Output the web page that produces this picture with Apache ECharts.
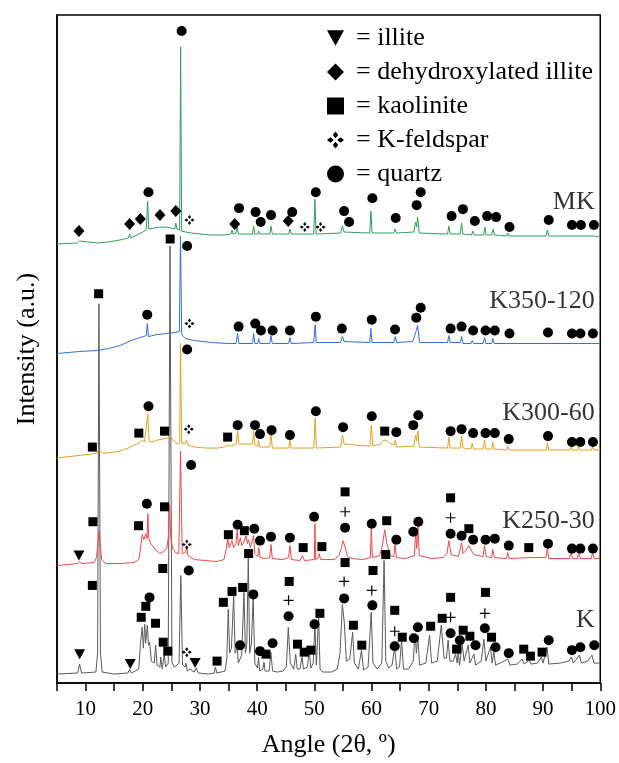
<!DOCTYPE html>
<html><head><meta charset="utf-8">
<script src="https://cdn.jsdelivr.net/npm/echarts/dist/echarts.min.js"></script>
<style>html,body{margin:0;padding:0;background:#fff}#c{width:619px;height:763px}</style>
</head><body><div id="c"></div>
<script>
// ---- traces: [angle 2θ, intensity (a.u., stacked)] ----
const traceK = [[5,9],[8.6,10],[8.95,19],[9.3,10],[11.8,11],[12.1,30],[12.33,381],[12.6,30],[12.9,11],[15,9],[17.4,10],[17.7,14],[18.0,10],[19.3,14],[19.6,40],[19.9,56],[20.1,35],[20.35,59],[20.5,40],[20.8,58],[21.0,38],[21.2,41],[21.5,22],[22.0,20],[22.25,38],[22.5,18],[23.0,16],[23.15,26],[23.4,14],[23.75,29],[24.0,16],[24.45,20],[24.76,439],[25.1,21],[25.5,16],[26.0,18],[26.35,20],[26.65,108],[26.95,18],[27.4,16],[27.55,20],[27.8,12],[28.2,14],[29.0,11],[29.35,15],[29.7,10],[31.5,9],[32.5,10],[32.7,16],[32.95,10],[34.4,12],[34.7,25],[34.95,74],[35.2,30],[35.5,35],[35.9,88],[36.15,30],[36.45,31],[36.55,36],[36.7,20],[37.3,28],[37.7,91],[37.95,30],[38.2,40],[38.45,126],[38.7,30],[39.0,40],[39.3,86],[39.6,20],[40.05,15],[40.25,26],[40.45,12],[41.0,14],[41.2,21],[41.4,12],[42.1,12],[42.4,31],[42.7,12],[43.5,11],[44.5,12],[45.1,16],[45.45,56],[45.8,20],[46.4,14],[46.75,29],[47.0,14],[47.5,14],[47.85,26],[48.1,14],[48.8,16],[49.1,33],[49.4,15],[49.8,20],[50.1,58],[50.35,18],[50.5,20],[50.75,68],[51.0,14],[51.5,11],[53.0,11],[54.0,14],[54.5,30],[54.9,79],[55.25,60],[55.6,22],[56.2,24],[56.7,51],[57.0,20],[57.7,14],[58.25,33],[58.6,13],[59.4,16],[59.95,71],[60.25,20],[61.0,14],[61.8,20],[62.2,123],[62.5,22],[63.0,15],[63.6,18],[64.05,36],[64.4,14],[64.9,16],[65.25,43],[65.6,14],[66.5,14],[67.3,22],[67.5,40],[67.7,43],[67.85,30],[68.1,48],[68.4,18],[69.5,20],[70.15,48],[70.5,20],[71.5,22],[72.2,58],[72.7,25],[73.1,25],[73.4,43],[73.7,22],[74.3,22],[74.7,29],[75.0,20],[75.15,31],[75.4,18],[75.85,39],[76.2,22],[76.9,38],[77.2,20],[77.9,29],[78.2,18],[79.2,22],[79.65,44],[80.0,22],[80.8,36],[81.1,20],[81.4,31],[81.7,18],[82.5,20],[83.85,24],[84.2,18],[85.5,19],[86.35,24],[86.7,19],[87.6,23],[87.9,19],[89.0,20],[89.7,26],[90.0,20],[90.7,36],[91.0,19],[93.0,20],[94.5,22],[94.95,26],[95.3,20],[96.35,28],[96.7,20],[97.8,22],[98.55,28],[98.9,20],[100,20]];
const traceK250 = [[5,118],[8.6,120],[8.95,122],[9.3,120],[11.5,121],[11.9,126],[12.15,140],[12.33,153],[12.55,140],[12.8,124],[13.5,120],[16,120],[18.5,121],[19.3,124],[19.6,135],[19.9,149],[20.2,144],[20.5,150],[20.75,145],[20.88,170],[21.05,145],[21.4,140],[22.2,134],[23.0,130],[23.6,132],[24.2,135],[24.5,148],[24.7,179],[24.85,148],[25.2,136],[25.7,131],[26.3,130],[26.6,233],[26.9,130],[27.5,131],[27.65,138],[27.9,128],[29,124],[31,123],[33,122],[34.2,124],[34.6,135],[34.85,146],[35.1,136],[35.6,143],[35.9,136],[36.3,140],[36.5,154],[36.7,138],[37.06,146],[37.3,138],[37.7,142],[38.05,148],[38.3,140],[38.5,144],[38.8,136],[39.1,134],[39.38,148],[39.6,130],[40.1,127],[40.28,136],[40.5,126],[41.5,125],[42.2,126],[42.42,139],[42.65,125],[44.5,124],[45.5,126],[45.73,138],[46.0,124],[47.5,123],[47.9,128],[48.3,123],[50.0,124],[50.1,160],[50.25,124],[50.7,126],[50.85,130],[51.1,124],[53.5,124],[54.3,128],[54.7,135],[55.03,143],[55.4,136],[55.8,127],[56.7,125],[58.5,124],[59.8,126],[59.97,156],[60.15,126],[61.4,128],[61.9,138],[62.31,154],[62.7,140],[63.3,128],[63.9,127],[64.11,139],[64.35,126],[66,125],[67.5,128],[67.72,153],[67.9,135],[68.12,158],[68.35,128],[70.5,125],[72.5,126],[73.2,130],[73.53,143],[73.9,129],[75.2,127],[75.75,141],[76.0,130],[76.5,133],[77.0,138],[77.4,134],[77.6,136],[77.9,129],[79.5,127],[79.77,138],[80.05,127],[81.0,126],[81.21,134],[81.5,126],[83.6,125],[83.83,131],[84.1,125],[87.5,126],[90.5,126],[90.76,136],[91.0,125],[94.6,125],[94.88,131],[95.2,125],[96.0,125],[96.22,131],[96.5,125],[98.4,125],[98.66,131],[98.95,125],[100,125]];
const traceK300 = [[5,226],[8,228],[11,230],[11.9,231],[12.15,233],[12.33,235],[12.55,233],[12.9,231],[14,231],[16,233],[17.5,236],[18.5,239],[19.3,241],[19.9,244],[20.3,242],[20.6,243],[20.88,270],[21.1,243],[21.6,242],[22.5,244],[23.5,245],[24.3,246],[24.79,248],[25.3,244],[26.0,240],[26.45,241],[26.6,341],[26.8,241],[27.3,240],[27.65,244],[27.9,239],[29,237],[31,236],[33,236],[34.2,237],[34.84,239],[35.5,238],[36.3,240],[36.59,253],[36.8,240],[38.0,240],[39.2,240],[39.38,253],[39.6,239],[40.1,238],[40.25,244],[40.45,237],[42.2,237],[42.42,251],[42.65,236],[45.5,236],[45.73,244],[45.95,236],[49.9,236],[50.15,266],[50.35,236],[54.6,237],[54.91,249],[55.2,240],[55.4,238],[59.7,238],[59.97,259],[60.2,238],[61.5,240],[62.2,244],[62.8,243],[63.4,240],[63.95,239],[64.16,244],[64.4,237],[67.4,238],[67.72,249],[67.9,243],[68.12,253],[68.35,237],[73.3,236],[73.53,247],[73.75,236],[75.5,236],[75.75,248],[76.0,236],[77.4,235],[77.6,241],[77.85,235],[79.5,235],[79.77,244],[80.0,235],[81.0,235],[81.21,242],[81.45,235],[83.6,234],[83.83,238],[84.05,234],[90.5,234],[90.76,241],[91.0,234],[94.7,234],[94.9,238],[95.1,234],[96.0,234],[96.22,238],[96.45,234],[98.45,234],[98.66,238],[98.9,234],[100,234]];
const traceK350 = [[5,331],[9,333],[12,334],[14,336],[16,339],[18,344],[19.5,347],[20.6,349],[20.8,361],[21.0,348],[22.5,350],[24,351],[25.5,352],[26.4,353],[26.6,449],[26.8,350],[27.5,346],[29,344],[32,342],[35,341],[36.3,341],[36.59,351],[36.8,341],[39.2,341],[39.38,351],[39.6,341],[40.1,341],[40.25,346],[40.45,341],[42.2,341],[42.42,349],[42.65,341],[45.5,341],[45.73,347],[45.95,341],[49.9,342],[50.15,360],[50.35,342],[54.6,342],[54.91,348],[55.2,343],[59.7,342],[59.87,356],[60.1,342],[63.9,342],[64.16,348],[64.4,342],[67.2,343],[67.83,354],[68.07,359],[68.4,342],[73.3,342],[73.53,349],[73.75,342],[75.5,342],[75.75,348],[76.0,341],[77.4,341],[77.6,344],[77.85,341],[79.5,341],[79.77,347],[80.0,341],[81.0,341],[81.21,346],[81.45,341],[83.6,341],[83.83,343],[84.05,341],[90.5,341],[90.76,343],[91.0,341],[94.7,341],[94.9,342],[95.1,341],[96.0,341],[96.22,342],[96.45,341],[98.45,341],[98.66,342],[98.9,341],[100,341]];
const traceMK = [[5,441],[8.6,442],[8.96,444],[9.3,442],[12,442],[14,443],[16,445],[17.5,447],[17.69,451],[17.9,447],[19,450],[20.0,453],[20.6,455],[20.85,484],[21.05,456],[22,457],[23,458],[24,458],[25.0,457],[25.6,456],[25.77,462],[25.95,456],[26.45,455],[26.62,639],[26.8,454],[27.5,453],[28.5,452],[30,451],[32,450],[34,450],[35.4,451],[35.61,455],[35.8,451],[36.3,452],[36.48,459],[36.7,451],[39.2,451],[39.38,459],[39.6,451],[40.1,451],[40.25,454],[40.45,451],[42.2,451],[42.42,459],[42.65,451],[45.5,451],[45.73,456],[45.95,451],[49.9,451],[50.1,486],[50.3,451],[54.6,452],[54.91,459],[55.2,453],[55.5,452],[59.7,452],[59.89,474],[60.1,452],[63.9,452],[64.11,456],[64.35,452],[67.4,453],[67.72,463],[67.9,458],[68.05,468],[68.35,452],[73.3,451],[73.53,459],[73.75,451],[75.5,451],[75.75,462],[76.0,451],[77.5,450],[77.72,454],[77.95,450],[79.6,450],[79.82,458],[80.05,450],[81.0,450],[81.27,456],[81.5,450],[83.6,449],[83.83,452],[84.05,449],[90.5,449],[90.76,455],[91.0,449],[94.7,449],[94.9,451],[95.1,449],[96.0,449],[96.22,451],[96.45,449],[98.45,449],[98.66,451],[98.9,449],[100,448]];

// ---- phase markers: [angle, height] ----
const illiteMarks = [[8.96,29],[17.81,19],[29.15,20],[8.84,128]];
const dehydIlliteMarks = [[8.84,454],[17.69,461],[19.57,466],[23.01,470],[25.77,474],[36.08,461],[45.44,464]];
const kaoliniteMarks = [[11.18,98],[12.28,391],[19.73,66],[20.53,77],[22.23,60],[23.57,41],[24.37,32],[23.5,115],[24.79,446],[32.99,22],[34.09,81],[35.61,92],[37.46,96],[38.51,130],[41.54,29],[45.61,102],[47.06,39],[48.23,31],[49.4,33],[50.97,70],[55.38,121],[56.83,58],[58.3,38],[60.27,113],[62.49,129],[64.06,73],[65.38,46],[70.34,57],[72.36,65],[73.83,86],[74.88,34],[76.03,53],[77.2,47],[79.94,91],[80.99,46],[86.62,34],[87.79,27],[89.82,31],
  [11.28,162],[19.26,158],[23.8,177],[34.97,149],[37.76,153],[48.05,136],[51.32,137],[55.38,192],[62.66,163],[73.83,186],[77.02,155],[87.5,136],
  [11.18,237],[19.31,251],[23.8,253],[34.84,247],[62.31,253]];
const feldsparMarks = [[27.69,31],[27.69,139],[28.04,255],[28.16,361],[28.16,465],[48.33,458],[51.09,458]];
const quartzMarks = [
  [21.18,86],[28.04,113],[37.01,38],[39.33,89],[40.5,32],[42.7,40],[45.49,67],[50.03,59],[55.21,85],[60.15,78],[64.06,37],[67.4,45],[68.1,56],[73.83,50],[75.45,43],[78.19,38],[79.82,55],[81.68,36],[84.0,30],[90.99,43],[95.05,33],[96.52,36],[98.96,38],
  [20.71,180],[28.46,219],[36.59,159],[39.5,155],[40.5,143],[42.42,147],[45.73,146],[49.97,167],[55.38,156],[60.04,160],[64.34,144],[67.3,152],[68.18,162],[73.83,150],[75.75,148],[77.77,144],[79.94,144],[81.56,145],[84.0,138],[90.86,140],[95.05,135],[96.52,135],[98.72,135],
  [21.0,278],[27.76,335],[36.59,259],[39.62,259],[40.5,250],[42.52,254],[45.73,249],[50.27,273],[55.03,257],[60.04,268],[64.34,252],[67.3,259],[68.18,269],[73.83,253],[75.75,255],[77.77,251],[79.94,251],[81.56,251],[84.0,245],[90.86,248],[95.05,242],[96.52,242],[98.72,242],
  [20.78,370],[27.76,439],[36.76,358],[39.68,361],[40.67,354],[42.7,354],[45.73,354],[50.27,368],[54.81,356],[60.04,365],[64.11,355],[67.83,367],[68.6,377],[73.83,356],[75.75,358],[77.77,354],[79.94,354],[81.56,354],[84.13,351],[90.86,352],[95.05,351],[96.52,351],[98.72,351],
  [21.0,493],[26.8,655],[36.83,477],[39.73,473],[40.62,463],[42.42,470],[46.13,473],[50.25,493],[55.21,474],[56.08,463],[60.15,487],[64.23,467],[67.9,480],[68.6,493],[74.0,469],[75.98,476],[78.07,464],[80.22,469],[81.79,468],[84.13,458],[90.99,465],[95.05,460],[96.62,460],[98.89,460]];
const plusMarks = [[45.49,83],[55.21,102],[60.04,93],[64.06,52],[73.83,66],[79.82,70],[55.38,172],[73.83,166]];

// ---- sample labels ----
const sampleNames = ['MK','K350-120','K300-60','K250-30','K'];
const labelLevels = [483,384,271,163,63];
const traceColors = ['#2f9f5c','#2f6fd8','#e3a21f','#f04848','#5a5a5a'];

const FONT = 'Liberation Serif';
const triDown = 'path://M0,0L10,0L5,9Z';
const feld = 'path://M5,0L6.6,2L5,4L3.4,2Z M0,5L2,3.4L4,5L2,6.6Z M6,5L8,3.4L10,5L8,6.6Z M5,6L6.6,8L5,10L3.4,8Z';
const plus = 'path://M4.4,0H5.6V4.4H10V5.6H5.6V10H4.4V5.6H0V4.4H4.4Z';

const traces = [traceMK, traceK350, traceK300, traceK250, traceK];
const series = [];
// draw K first (bottom)
for (let i = traces.length - 1; i >= 0; i--) {
  series.push({type:'line', name:sampleNames[i], data:traces[i], showSymbol:false, symbol:'none',
    lineStyle:{width:1, color:traceColors[i]}, itemStyle:{color:traceColors[i]}, silent:true, z:2});
}
function sc(name, data, symbol, size){
  return {type:'scatter', name, data, symbol, symbolSize:size, itemStyle:{color:'#000', opacity:1}, silent:true, z:5};
}
series.push(sc('illite', illiteMarks, triDown, [11,10]));
series.push(sc('dehydroxylated illite', dehydIlliteMarks, 'diamond', [11,12]));
series.push(sc('kaolinite', kaoliniteMarks, 'rect', 9));
series.push(sc('K-feldspar', feldsparMarks, feld, 10));
series.push(sc('quartz', quartzMarks, 'circle', 10));
series.push(sc('plus', plusMarks, plus, 10));
series.push({type:'scatter', name:'labels', silent:true, symbol:'circle', symbolSize:1,
  itemStyle:{color:'rgba(0,0,0,0)'},
  data: sampleNames.map((n,i)=>[100, labelLevels[i], n]),
  label:{show:true, position:'left', distance:5, formatter:p=>p.data[2], fontFamily:FONT, fontSize:26, color:'#000'}, z:6});

const chart = echarts.init(document.getElementById('c'), null, {renderer:'canvas'});
chart.setOption({
  animation:false,
  backgroundColor:'#fff',
  grid:{left:57, right:17, top:15, bottom:77, show:true, borderColor:'#000', borderWidth:1.5, backgroundColor:'transparent'},
  legend:{orient:'vertical', left:322, top:18, itemWidth:17, itemHeight:17, itemGap:4, selectedMode:false,
    data:[{name:'illite', icon:triDown},{name:'dehydroxylated illite', icon:'diamond'},{name:'kaolinite', icon:'rect'},{name:'K-feldspar', icon:feld},{name:'quartz', icon:'circle'}],
    formatter:n=>'= '+n,
    textStyle:{fontFamily:FONT, fontSize:26, color:'#000', lineHeight:30, padding:[0,0,0,7]}},
  xAxis:{type:'value', min:5, max:100, interval:5,
    name:'Angle (2θ, º)', nameLocation:'middle', nameGap:49, nameTextStyle:{fontFamily:FONT, fontSize:26, color:'#000'},
    axisLine:{show:true, lineStyle:{color:'#000', width:1.5}},
    axisTick:{show:true, inside:false, length:8, lineStyle:{color:'#000', width:1.5}},
    axisLabel:{margin:16, fontFamily:FONT, fontSize:21, color:'#000', formatter:v=>(v%10===0?String(v):'')},
    splitLine:{show:false}},
  yAxis:{type:'value', min:0, max:671,
    name:'Intensity (a.u.)', nameLocation:'middle', nameGap:17, nameTextStyle:{fontFamily:FONT, fontSize:26, color:'#000'},
    axisLine:{show:true, lineStyle:{color:'#000', width:1.5}},
    axisTick:{show:false}, axisLabel:{show:false}, splitLine:{show:false}},
  series
});
</script></body></html>
